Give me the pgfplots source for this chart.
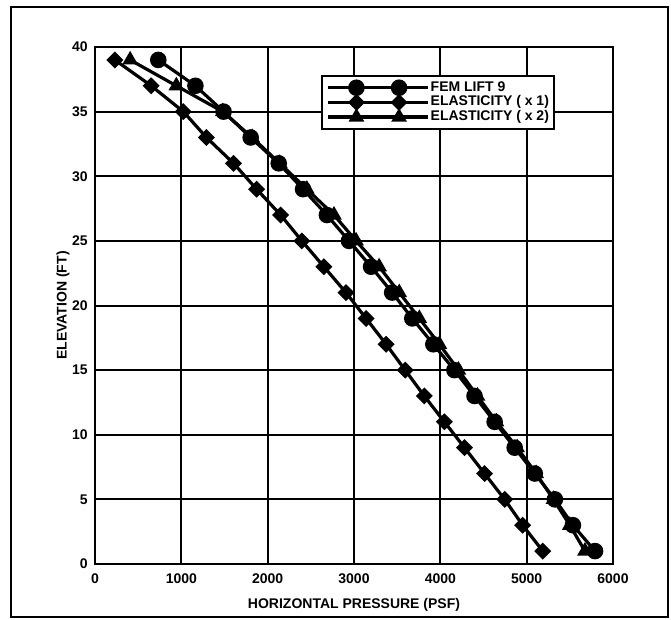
\documentclass[border=0pt]{standalone}
\usepackage{fontspec}
\setmainfont{Liberation Sans}
\usepackage{pgfplots}
\pgfplotsset{compat=1.18}

\begin{document}
\begin{tikzpicture}
\path[use as bounding box] (0pt,0pt) rectangle (503.25pt,464.25pt);
\draw[line width=2.2pt] (8.25pt,1.5pt) rectangle (501pt,459pt);
\begin{axis}[
  at={(71.25pt,41.25pt)}, anchor=south west,
  scale only axis, width=388.5pt, height=387.75pt,
  xmin=0, xmax=6000, ymin=0, ymax=40,
  xtick={0,1000,...,6000}, ytick={0,5,...,40},
  scaled x ticks=false,
  /pgf/number format/set thousands separator={},
  /pgf/number format/assume math mode=true,
  grid=major,
  major grid style={black, line width=1.5pt},
  axis line style={line width=1.8pt},
  major tick length=0pt,
  tick label style={font=\fontsize{10.5}{12}\selectfont\bfseries},
  xticklabel style={yshift=-4pt},
  yticklabel style={xshift=-2pt},
  xlabel={HORIZONTAL PRESSURE (PSF)},
  ylabel={ELEVATION (FT)},
  label style={font=\fontsize{10.5}{12}\selectfont\bfseries},
  xlabel style={at={(axis description cs:0.5,0)}, anchor=center, yshift=-30.5pt},
  ylabel style={at={(axis description cs:0,0.5)}, anchor=center, yshift=24pt},
  legend style={at={(0.437,0.946)}, anchor=north west, draw=black, line width=1.2pt,
    font=\fontsize{10.5}{12}\selectfont\bfseries, inner sep=3.5pt, row sep=0pt,
    nodes={inner sep=0.5pt, text height=7.5pt, text depth=2.5pt}},
  legend cell align=left,
  legend image code/.code={
    \draw[#1, mark=none] (0pt,0pt) -- (75pt,0pt);
    \draw[#1, only marks] plot coordinates {(21pt,0pt) (53pt,0pt)};
  },
  every axis plot/.append style={black, line width=2.4pt, mark options={solid, fill=black}},
]
\addplot[mark=*, mark size=5pt] coordinates {
  (733,39)(1163,37)(1489,35)(1803,33)(2128,31)(2410,29)(2686,27)(2942,25)(3198,23)(3442,21)
  (3675,19)(3919,17)(4163,15)(4396,13)(4629,11)(4861,9)(5094,7)(5327,5)(5536,3)(5792,1)
};
\addlegendentry{FEM LIFT 9}
\addplot[mark=square*, mark size=3.3pt, mark options={rotate=45}] coordinates {
  (230,39)(651,37)(1023,35)(1291,33)(1605,31)(1872,29)(2151,27)(2396,25)(2651,23)(2907,21)
  (3140,19)(3372,17)(3593,15)(3814,13)(4047,11)(4280,9)(4512,7)(4745,5)(4954,3)(5187,1)
};
\addlegendentry{ELASTICITY ( x 1)}
\addplot[mark=triangle*, mark size=4.4pt] coordinates {
  (407,39)(942,37)(1480,35)(1820,33)(2140,31)(2454,29)(2768,27)(3024,25)(3291,23)(3524,21)
  (3757,19)(3989,17)(4210,15)(4430,13)(4650,11)(4890,9)(5110,7)(5310,5)(5500,3)(5675,1)
};
\addlegendentry{ELASTICITY ( x 2)}
\end{axis}
\end{tikzpicture}
\end{document}
